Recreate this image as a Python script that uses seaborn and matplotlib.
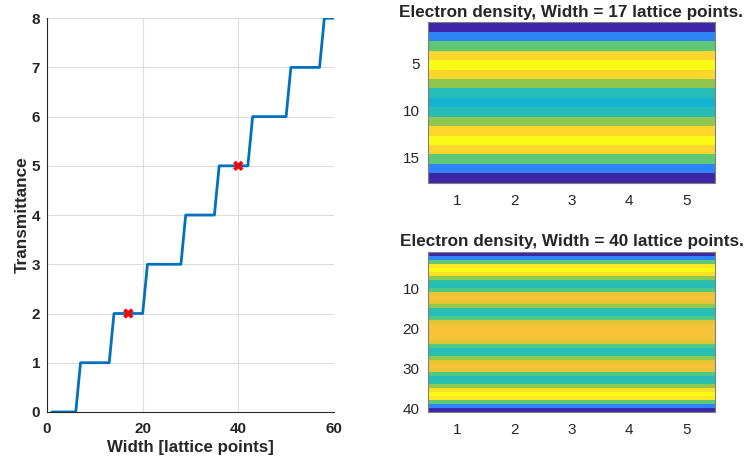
import numpy as np
import pandas as pd
import matplotlib
matplotlib.use('Agg')
import matplotlib.pyplot as plt
import seaborn as sns
from matplotlib.colors import LinearSegmentedColormap

# ---- data ----
widths = list(range(1, 61))
transmittance = [0, 0, 0, 0, 0, 0,
                 1, 1, 1, 1, 1, 1, 1,
                 2, 2, 2, 2, 2, 2, 2,
                 3, 3, 3, 3, 3, 3, 3, 3,
                 4, 4, 4, 4, 4, 4, 4,
                 5, 5, 5, 5, 5, 5, 5,
                 6, 6, 6, 6, 6, 6, 6, 6,
                 7, 7, 7, 7, 7, 7, 7,
                 8, 8, 8]

marked_widths = [17, 40]
marked_transmittance = [2, 5]

# relative electron density per transverse row (same along the 5 columns)
density_17 = [0.0, 0.28, 0.62, 0.9, 1.0, 0.9, 0.68, 0.5, 0.44,
              0.5, 0.68, 0.9, 1.0, 0.9, 0.62, 0.28, 0.0]
density_40 = [0.0, 0.28, 0.62, 0.95, 1.0, 0.93, 0.68, 0.52, 0.5, 0.6,
              0.82, 0.85, 0.82, 0.68, 0.52, 0.5, 0.6, 0.8, 0.84, 0.84,
              0.84, 0.84, 0.8, 0.6, 0.5, 0.52, 0.68, 0.82, 0.85, 0.82,
              0.6, 0.5, 0.52, 0.68, 0.93, 1.0, 0.95, 0.62, 0.28, 0.0]
n_columns = 5

# parula-like colormap
parula = LinearSegmentedColormap.from_list(
    'parula_like',
    ['#3e26a8', '#4752f4', '#2d87f7', '#12b1d6', '#37c897',
     '#abc739', '#fec338', '#f9fb15'])

sns.set_style('white')
plt.rcParams['font.family'] = ['Liberation Sans', 'DejaVu Sans']
plt.rcParams['axes.edgecolor'] = '#262626'

fig = plt.figure(figsize=(7.47, 4.66), dpi=100)

# ---- left: transmittance staircase ----
ax = fig.add_axes([0.063, 0.116, 0.384, 0.845])
sns.lineplot(x=widths, y=transmittance, ax=ax, color='#0072BD', linewidth=2)
sns.scatterplot(x=marked_widths, y=marked_transmittance, ax=ax, marker='X',
                color='red', s=55, edgecolor='none', zorder=5)
ax.set_xlim(0, 60)
ax.set_ylim(0, 8)
ax.set_xticks([0, 20, 40, 60])
ax.set_yticks(range(0, 9))
ax.grid(True, color='#dcdcdc', linewidth=0.8)
ax.set_axisbelow(True)
ax.spines['top'].set_visible(False)
ax.spines['right'].set_visible(False)
ax.tick_params(direction='in', length=4, colors='#262626', labelsize=11)
ax.tick_params(axis='x', pad=7)
ax.tick_params(axis='y', pad=5)
for lab in ax.get_xticklabels() + ax.get_yticklabels():
    lab.set_fontweight('bold')
ax.set_xlabel('Width [lattice points]', fontsize=12.2, fontweight='bold',
              color='#262626', labelpad=3)
ax.set_ylabel('Transmittance', fontsize=12.4, fontweight='bold',
              color='#262626', labelpad=1)


def density_panel(rect, density, width, yticks):
    hax = fig.add_axes(rect)
    table = pd.DataFrame(np.tile(np.array(density)[:, None], (1, n_columns)),
                         index=range(1, len(density) + 1),
                         columns=range(1, n_columns + 1))
    sns.heatmap(table, ax=hax, cmap=parula, cbar=False,
                vmin=min(density), vmax=max(density))
    hax.set_xticks(np.arange(n_columns) + 0.5)
    hax.set_xticklabels([str(c) for c in range(1, n_columns + 1)], rotation=0)
    hax.set_yticks(np.array(yticks) - 0.5)
    hax.set_yticklabels([str(t) for t in yticks], rotation=0)
    hax.set_xlabel('')
    hax.set_ylabel('')
    for side in ['top', 'right', 'bottom', 'left']:
        hax.spines[side].set_visible(True)
        hax.spines[side].set_color('#808080')
        hax.spines[side].set_linewidth(0.8)
    hax.tick_params(direction='in', length=3, top=True, right=True,
                    colors='#262626', labelsize=11)
    hax.tick_params(axis='x', pad=8)
    hax.tick_params(axis='y', pad=6)
    hax.set_title(f'Electron density, Width = {width} lattice points.',
                  fontsize=12.3, fontweight='bold', pad=4)
    return hax


density_panel([0.573, 0.608, 0.384, 0.344], density_17, 17, [5, 10, 15])
density_panel([0.573, 0.1165, 0.384, 0.3435], density_40, 40, [10, 20, 30, 40])

fig.savefig('out.png', dpi=100)
